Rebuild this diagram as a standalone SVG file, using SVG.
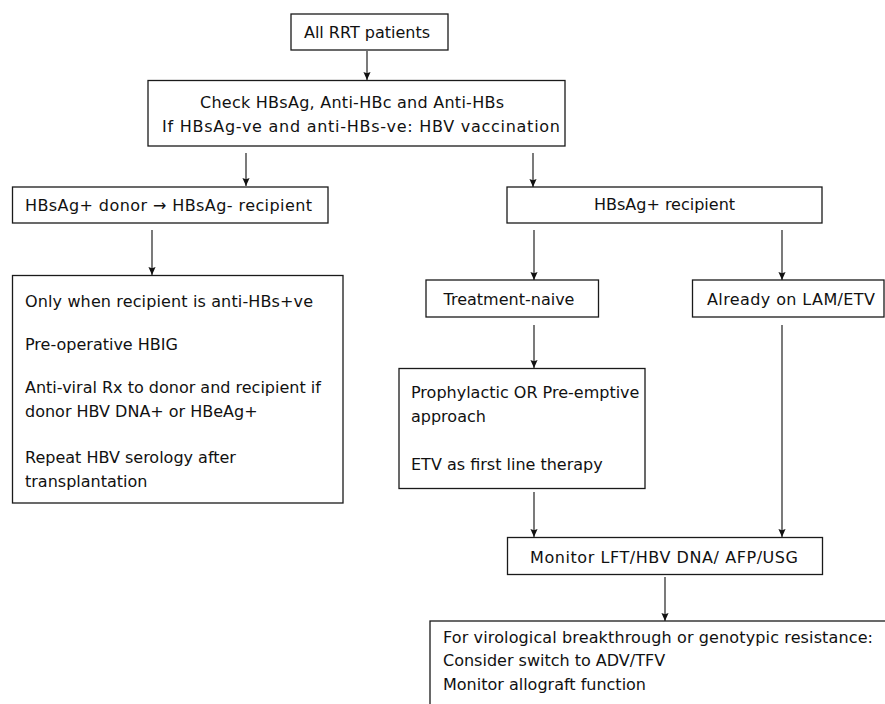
<svg xmlns="http://www.w3.org/2000/svg" width="885" height="704" viewBox="0 0 885 704">
<defs>
<style>
.box{fill:#fff;stroke:#1a1a1a;stroke-width:1.3}
.t{font-family:"DejaVu Sans",sans-serif;font-size:16px;fill:#111}
.m{text-anchor:middle}
.c{fill:none;stroke:#333;stroke-width:1.3}
</style>
<marker id="a" markerUnits="userSpaceOnUse" markerWidth="8" markerHeight="9" viewBox="0 0 9 8" refX="9" refY="4" orient="auto">
<path d="M0,0 L9,4 L0,8 L1.5,4 Z" fill="#111"/>
</marker>
</defs>
<rect width="885" height="704" fill="#fff"/>
<g id="connectors">
<line class="c" x1="367" y1="51" x2="367" y2="80" marker-end="url(#a)"/>
<line class="c" x1="246" y1="153" x2="246" y2="186" marker-end="url(#a)"/>
<line class="c" x1="533" y1="153" x2="533" y2="187" marker-end="url(#a)"/>
<line class="c" x1="152" y1="230" x2="152" y2="275" marker-end="url(#a)"/>
<line class="c" x1="534" y1="230" x2="534" y2="280" marker-end="url(#a)"/>
<line class="c" x1="782" y1="230" x2="782" y2="280" marker-end="url(#a)"/>
<line class="c" x1="534" y1="325" x2="534" y2="368" marker-end="url(#a)"/>
<line class="c" x1="534" y1="492" x2="534" y2="537" marker-end="url(#a)"/>
<line class="c" x1="782" y1="325" x2="782" y2="537" marker-end="url(#a)"/>
<line class="c" x1="665" y1="577" x2="665" y2="621" marker-end="url(#a)"/>
</g>
<g id="n-all">
<rect class="box" x="291" y="14" width="157" height="36"/>
<text class="t m" x="367" y="38">All RRT patients</text>
</g>
<g id="n-check">
<rect class="box" x="148" y="80.5" width="417" height="65.5"/>
<text class="t m" x="352" y="108" textLength="304" lengthAdjust="spacing">Check HBsAg, Anti-HBc and Anti-HBs</text>
<text class="t m" x="361" y="131.5" textLength="398" lengthAdjust="spacing">If HBsAg-ve and anti-HBs-ve: HBV vaccination</text>
</g>
<g id="n-donor">
<rect class="box" x="12.5" y="187" width="315.5" height="36"/>
<text class="t m" x="168.5" y="211" textLength="287" lengthAdjust="spacing">HBsAg+ donor → HBsAg- recipient</text>
</g>
<g id="n-recipient">
<rect class="box" x="507" y="187" width="315" height="36"/>
<text class="t m" x="664.5" y="210">HBsAg+ recipient</text>
</g>
<g id="n-only">
<rect class="box" x="12.5" y="275.5" width="330.5" height="227.5"/>
<text class="t" x="25" y="306.5" textLength="288" lengthAdjust="spacing">Only when recipient is anti-HBs+ve</text>
<text class="t" x="25" y="350">Pre-operative HBIG</text>
<text class="t" x="25" y="393">Anti-viral Rx to donor and recipient if</text>
<text class="t" x="25" y="416.5">donor HBV DNA+ or HBeAg+</text>
<text class="t" x="25" y="463">Repeat HBV serology after</text>
<text class="t" x="25" y="486.5">transplantation</text>
</g>
<g id="n-naive">
<rect class="box" x="426" y="280" width="172.5" height="37"/>
<text class="t m" x="509" y="305">Treatment-naive</text>
</g>
<g id="n-already">
<rect class="box" x="692.5" y="280" width="191.5" height="37"/>
<text class="t m" x="791" y="305" textLength="168" lengthAdjust="spacing">Already on LAM/ETV</text>
</g>
<g id="n-prophylactic">
<rect class="box" x="399" y="368.5" width="246" height="120"/>
<text class="t" x="411" y="398">Prophylactic OR Pre-emptive</text>
<text class="t" x="411" y="421.5">approach</text>
<text class="t" x="411" y="470">ETV as first line therapy</text>
</g>
<g id="n-monitor">
<rect class="box" x="507.5" y="537.5" width="315" height="37"/>
<text class="t m" x="664" y="563" textLength="268" lengthAdjust="spacing">Monitor LFT/HBV DNA/ AFP/USG</text>
</g>
<g id="n-virological">
<rect class="box" x="430" y="621" width="470" height="100"/>
<text class="t" x="443" y="643" textLength="430" lengthAdjust="spacing">For virological breakthrough or genotypic resistance:</text>
<text class="t" x="443" y="665.5">Consider switch to ADV/TFV</text>
<text class="t" x="443" y="690">Monitor allograft function</text>
</g>
</svg>
